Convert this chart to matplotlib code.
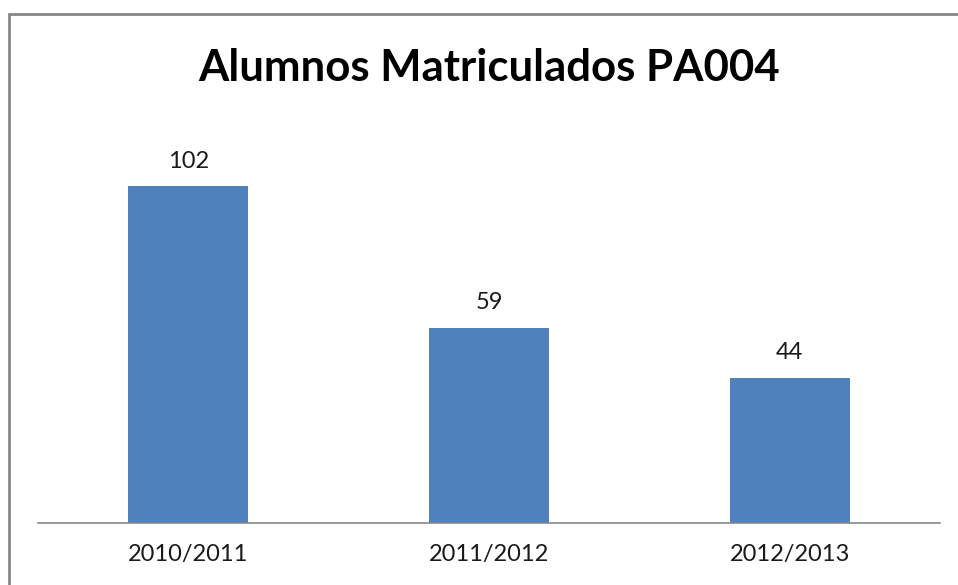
import matplotlib.pyplot as plt
from matplotlib.patches import Rectangle

# datos
cursos = ['2010/2011', '2011/2012', '2012/2013']
alumnos = [102, 59, 44]

W, H = 958, 585
fig = plt.figure(figsize=(W / 100, H / 100), dpi=100)

# borde gris del gráfico (sale por la derecha y por abajo)
fig.patches.append(Rectangle((8.5 / W, 0 - 0.05), 1.2, (H - 14) / H + 0.05,
                             transform=fig.transFigure, fill=False,
                             edgecolor='#878787', linewidth=2))

# área del gráfico en píxeles: x 38-940, base en y=523
ax = fig.add_axes([38 / W, (H - 523) / H, (940 - 38) / W, 396 / H])
x = range(len(cursos))
barras = ax.bar(x, alumnos, width=0.4, color='#4F81BD')
ax.set_xlim(-0.5, len(cursos) - 0.5)
ax.set_ylim(0, 120)

for b, v in zip(barras, alumnos):
    ax.text(b.get_x() + b.get_width() / 2, v + 4.5, str(v), ha='center',
            va='bottom', fontsize=17, family='Lato', color='#1a1a1a')

ax.set_xticks(list(x))
ax.set_xticklabels(cursos, fontsize=17, family='Lato', color='#1a1a1a')
ax.tick_params(axis='x', length=0, pad=15)
ax.set_yticks([])
for s in ['top', 'right', 'left']:
    ax.spines[s].set_visible(False)
ax.spines['bottom'].set_color('#878787')
ax.spines['bottom'].set_linewidth(1.2)

fig.text(489 / W, 1 - 68 / H, 'Alumnos Matriculados PA004', ha='center',
         va='center', fontsize=31.5, fontweight='bold', family='Lato')

fig.savefig('out.png', dpi=100)
